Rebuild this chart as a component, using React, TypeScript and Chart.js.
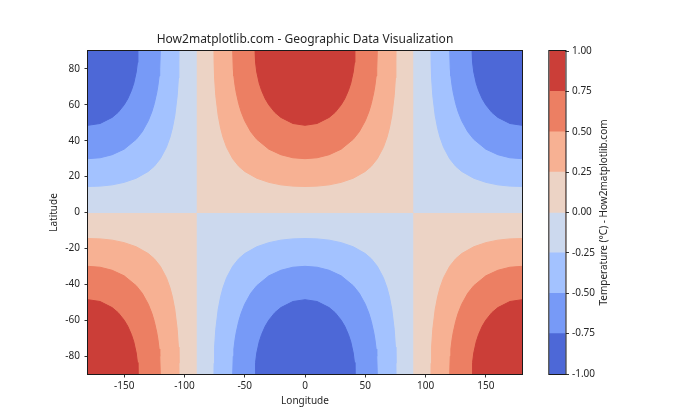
import React, { useEffect, useRef } from "react";
import { Chart, registerables } from "chart.js";

Chart.register(...registerables);

const TITLE = "How2matplotlib.com - Geographic Data Visualization";
const X_LABEL = "Longitude";
const Y_LABEL = "Latitude";
const CBAR_LABEL = "Temperature (°C) - How2matplotlib.com";

// contour levels and the colour of each band between two levels
const levels = [-1, -0.75, -0.5, -0.25, 0, 0.25, 0.5, 0.75, 1];
const bandColors = [
  "rgb(77,104,215)",
  "rgb(119,154,247)",
  "rgb(163,194,255)",
  "rgb(204,217,238)",
  "rgb(236,211,197)",
  "rgb(247,177,147)",
  "rgb(236,127,99)",
  "rgb(203,62,56)",
];

const lonTicks = [-150, -100, -50, 0, 50, 100, 150];
const latTicks = [-80, -60, -40, -20, 0, 20, 40, 60, 80];
const lonRange = [-180, 180];
const latRange = [-90, 90];
const zeroMeridians = [-90, 90];
const equator = 0;

// contour lines: [longitude distance from the lobe's centre meridian, |latitude|]
const contour025 = [
  [0, 14.5], [10, 14.7], [20, 15.4], [30, 16.8], [40, 19.1], [50, 22.9], [55, 25.8],
  [60, 30], [65, 36.3], [68, 41.9], [70, 47], [72, 54], [74, 65.1], [75, 75], [75.4, 84], [75.5, 90],
];
const contour050 = [
  [0, 30], [10, 30.5], [20, 32.2], [30, 35.3], [40, 40.8], [45, 45], [50, 51.1], [53, 56.2],
  [55, 60.7], [57, 66.7], [58, 70.7], [59, 76.1], [59.5, 80.1], [60, 90],
];
const contour075 = [
  [0, 48.6], [10, 49.6], [20, 53], [25, 55.8], [30, 60], [33, 63.4], [36, 68], [38, 72.1],
  [40, 78.3], [41, 83.6], [41.4, 90],
];
const contourLevels = [0.25, 0.5, 0.75];
const contourCurves = [contour025, contour050, contour075];

// lobes of the field: centre meridian, hemisphere (+1 north / -1 south), sign of the values
const lobes = [
  { lon: 0, hemi: 1, sign: 1 },
  { lon: -180, hemi: 1, sign: -1 },
  { lon: 180, hemi: 1, sign: -1 },
  { lon: 0, hemi: -1, sign: -1 },
  { lon: -180, hemi: -1, sign: 1 },
  { lon: 180, hemi: -1, sign: 1 },
];

const FONT = "'Noto Sans', 'DejaVu Sans', sans-serif";
const TEXT = "#262626";

function bandFor(level: number, sign: number) {
  return sign > 0 ? levels.indexOf(level) : levels.indexOf(-level) - 1;
}

function lobePoints(curve: number[][], lobe: { lon: number; hemi: number }) {
  const pts: { x: number; y: number }[] = [];
  if (lobe.lon > lonRange[0]) {
    for (let i = curve.length - 1; i >= 0; i--) {
      pts.push({ x: lobe.lon - curve[i][0], y: lobe.hemi * curve[i][1] });
    }
  }
  if (lobe.lon < lonRange[1]) {
    const start = lobe.lon > lonRange[0] ? 1 : 0;
    for (let i = start; i < curve.length; i++) {
      pts.push({ x: lobe.lon + curve[i][0], y: lobe.hemi * curve[i][1] });
    }
  }
  pts.sort((a, b) => a.x - b.x);
  return pts;
}

function area(data: { x: number; y: number }[], color: string, fill: string, order: number) {
  return {
    data,
    backgroundColor: color,
    borderColor: color,
    borderWidth: 1,
    pointRadius: 0,
    fill,
    order,
    tension: 0,
    clip: 0,
  };
}

function buildDatasets() {
  const ds: any[] = [];
  // hemispheres: background from corner lobes, then the central quadrant
  [1, -1].forEach((hemi) => {
    const corner = lobes.find((l) => l.hemi === hemi && l.lon !== 0)!;
    const centre = lobes.find((l) => l.hemi === hemi && l.lon === 0)!;
    const fill = hemi > 0 ? "end" : "start";
    ds.push(area([{ x: lonRange[0], y: equator }, { x: lonRange[1], y: equator }],
      bandColors[bandFor(0, corner.sign)], fill, 20));
    ds.push(area([{ x: zeroMeridians[0], y: equator }, { x: zeroMeridians[1], y: equator }],
      bandColors[bandFor(0, centre.sign)], fill, 19));
  });
  contourLevels.forEach((lv, k) => {
    lobes.forEach((lobe) => {
      ds.push(area(lobePoints(contourCurves[k], lobe), bandColors[bandFor(lv, lobe.sign)],
        lobe.hemi > 0 ? "end" : "start", 10 - k));
    });
  });
  return ds;
}

const framePlugin = {
  id: "frame",
  afterDraw(chart: any) {
    const { ctx, chartArea: a } = chart;
    ctx.save();
    ctx.strokeStyle = "#1a1a1a";
    ctx.lineWidth = 1;
    ctx.strokeRect(a.left - 0.5, a.top - 0.5, a.right - a.left + 1, a.bottom - a.top + 1);
    ctx.restore();
  },
};

const cbarLabelPlugin = {
  id: "cbarLabel",
  afterDraw(chart: any) {
    const { ctx, chartArea: a } = chart;
    ctx.save();
    ctx.translate(74, (a.top + a.bottom) / 2);
    ctx.rotate(-Math.PI / 2);
    ctx.fillStyle = TEXT;
    ctx.font = `10px ${FONT}`;
    ctx.textAlign = "center";
    ctx.textBaseline = "middle";
    ctx.fillText(CBAR_LABEL, 0, 0);
    ctx.restore();
  },
};

export default function App() {
  const mainRef = useRef<HTMLCanvasElement>(null);
  const cbarRef = useRef<HTMLCanvasElement>(null);

  useEffect(() => {
    const tickFont = { family: FONT, size: 10 };
    const main = new Chart(mainRef.current!, {
      type: "line",
      data: { datasets: buildDatasets() },
      plugins: [framePlugin],
      options: {
        responsive: false,
        animation: false,
        layout: { padding: { left: 48, right: 18, top: 0, bottom: 13 } },
        plugins: {
          legend: { display: false },
          tooltip: { enabled: false },
          title: {
            display: true,
            text: TITLE,
            fullSize: false,
            color: TEXT,
            font: { family: FONT, size: 12, weight: "normal" },
            padding: { top: 32.8, bottom: 3.8 },
          },
        },
        scales: {
          x: {
            type: "linear",
            min: lonRange[0],
            max: lonRange[1],
            afterBuildTicks: (s: any) => { s.ticks = lonTicks.map((v) => ({ value: v })); },
            afterFit: (s: any) => { s.height = 33; },
            ticks: { color: TEXT, font: tickFont, padding: 3, maxRotation: 0, autoSkip: false },
            grid: { drawOnChartArea: false, tickLength: 3.5, color: "#333", lineWidth: 1 },
            border: { display: false },
            title: { display: true, text: X_LABEL, color: TEXT, font: tickFont, padding: 0 },
          },
          y: {
            type: "linear",
            min: latRange[0],
            max: latRange[1],
            afterBuildTicks: (s: any) => { s.ticks = latTicks.map((v) => ({ value: v })); },
            afterFit: (s: any) => { s.width = 40; },
            ticks: { color: TEXT, font: tickFont, padding: 4.5, autoSkip: false },
            grid: { drawOnChartArea: false, tickLength: 3.5, color: "#333", lineWidth: 1 },
            border: { display: false },
            title: { display: true, text: Y_LABEL, color: TEXT, font: tickFont, padding: 0 },
          },
        },
      },
    } as any);

    // colour bar: each band drawn from the lowest level up to its top level,
    // lower bands painted over higher ones so the edges meet without seams
    const cbar = new Chart(cbarRef.current!, {
      type: "bar",
      data: {
        labels: [""],
        datasets: bandColors.map((c, i) => ({
          data: [[levels[0], levels[i + 1]]],
          backgroundColor: c,
          borderWidth: 0,
          barPercentage: 1,
          categoryPercentage: 1,
          grouped: false,
        })),
      },
      plugins: [framePlugin, cbarLabelPlugin],
      options: {
        responsive: false,
        animation: false,
        layout: { padding: { left: 19.3, right: 74.5, top: 51, bottom: 46 } },
        plugins: { legend: { display: false }, tooltip: { enabled: false } },
        scales: {
          x: { display: false },
          y: {
            position: "right",
            min: levels[0],
            max: levels[levels.length - 1],
            afterBuildTicks: (s: any) => { s.ticks = levels.map((v) => ({ value: v })); },
            afterFit: (s: any) => { s.width = 60; },
            ticks: {
              color: TEXT,
              font: tickFont,
              padding: 3,
              autoSkip: false,
              callback: (v: any) => Number(v).toFixed(2),
            },
            grid: { drawOnChartArea: false, tickLength: 3.5, color: "#333", lineWidth: 1 },
            border: { display: false },
          },
        },
      },
    } as any);

    return () => {
      main.destroy();
      cbar.destroy();
    };
  }, []);

  return (
    <div style={{ position: "fixed", left: 0, top: 0, width: 700, height: 420, background: "#fff" }}>
      <canvas ref={mainRef} width={540} height={420} style={{ position: "absolute", left: 0, top: 0 }} />
      <canvas ref={cbarRef} width={170} height={420} style={{ position: "absolute", left: 530, top: 0 }} />
    </div>
  );
}
